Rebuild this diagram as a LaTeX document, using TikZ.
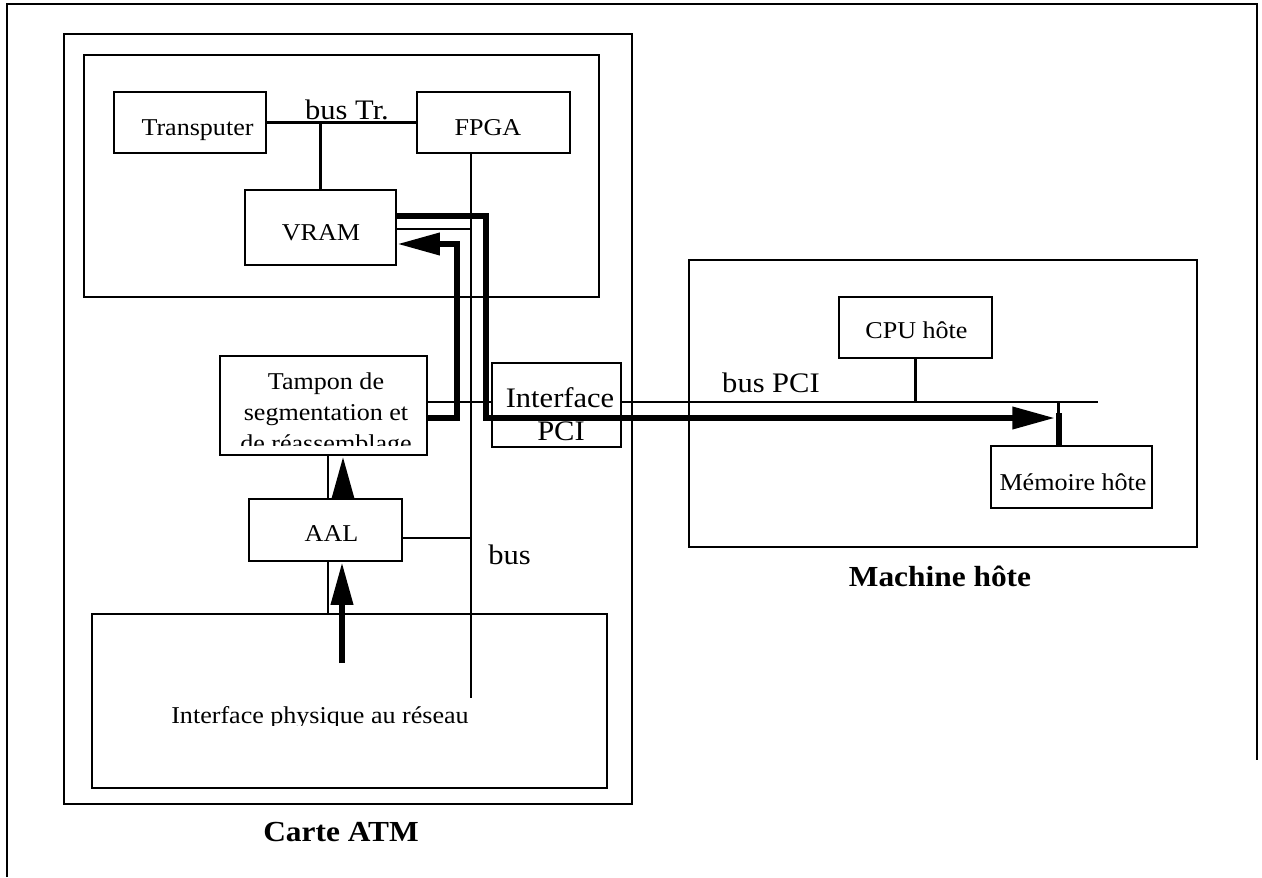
\documentclass[tikz,border=0pt]{standalone}
\usepackage{fontspec}
\setmainfont{Liberation Serif}[FakeStretch=1.08]
\usetikzlibrary{arrows.meta,fit}
\begin{document}
\begin{tikzpicture}[x=0.75pt,y=-0.75pt,
  box/.style={draw, line width=1.9pt, rectangle, inner sep=0pt},
  wire/.style={line width=1.9pt},
  heavy/.style={line width=4.5pt},
  flow/.style={line width=4.5pt, -{Triangle[length=32pt,width=16pt]}},
  small/.style={font=\fontsize{18.1}{21}\selectfont, inner sep=0pt, anchor=base},
  large/.style={font=\fontsize{21.2}{24}\selectfont, inner sep=0pt, anchor=base},
  title/.style={font=\fontsize{21.8}{25}\selectfont\bfseries, inner sep=0pt, anchor=base}]

\useasboundingbox (0,0) rectangle (1262,877);

% outer frame
\coordinate (fr1) at (7,877);
\coordinate (fr2) at (7,4);
\coordinate (fr3) at (1257,4);
\coordinate (fr4) at (1257,760);
\draw[line width=2.2pt] (fr1) -- (fr2) -- (fr3) -- (fr4);

% boxes
\node[box, fit={(64,34) (632,804)}] (carte) {};
\node[box, fit={(84,55) (599,297)}] (inner) {};
\node[box, fit={(114,92) (266,153)}] (trans) {};
\node[box, fit={(417,92) (570,153)}] (fpga) {};
\node[box, fit={(245,190) (396,265)}] (vram) {};
\node[box, fit={(220,356) (427,455)}] (tampon) {};
\node[box, fit={(492,363) (621,447)}] (iface) {};
\node[box, fit={(249,499) (402,561)}] (aal) {};
\node[box, fit={(92,614) (607,788)}] (phys) {};
\node[box, fit={(689,260) (1197,547)}] (host) {};
\node[box, fit={(839,297) (992,358)}] (cpu) {};
\node[box, fit={(991,446) (1152,508)}] (mem) {};

% texts
\node[small] (transT) at (197.5,136) {Transputer};
\node[small] (fpgaT) at (488,136) {FPGA};
\node[small] (vramT) at (321,240) {VRAM};
\node[large] (busTr) at (347,120) {bus Tr.};
\node[small] (tamp1) at (326,389) {Tampon de};
\node[small] (tamp2) at (326,420) {segmentation et};
\begin{scope}
  \clip (221,357) rectangle (426,445);
  \node[small] (tamp3) at (326,451.5) {de réassemblage};
\end{scope}
\node[large] (ifaceT1) at (560,407) {Interface};
\node[large] (ifaceT2) at (561,440) {PCI};
\node[small] (aalT) at (331.5,541) {AAL};
\node[large] (busT) at (509.5,564) {bus};
\begin{scope}
  \clip (93,615) rectangle (606,725.5);
  \node[small] (physT) at (320,723) {Interface physique au réseau};
\end{scope}
\node[title] (carteT) at (341,841) {Carte ATM};
\node[small] (cpuT) at (916.5,338) {CPU hôte};
\node[large] (busPCI) at (771,392) {bus PCI};
\node[small] (memT) at (1073,490) {Mémoire hôte};
\node[title] (hostT) at (940,586) {Machine hôte};

% coordinates
\coordinate (trj) at (320,124);
\coordinate (busend) at (471,698);
\coordinate (vb) at (471,229);
\coordinate (ab) at (471,538);
\coordinate (pb) at (0,402);
\coordinate (pciend) at (1098,402);
\coordinate (c1) at (486,216);
\coordinate (c2) at (486,418);
\coordinate (memtip) at (1055,418);
\coordinate (t1) at (457,418);
\coordinate (t2) at (457,244);
\coordinate (up1) at (343,0);
\coordinate (up2) at (342,663);
\coordinate (v1) at (328,0);
\coordinate (mv) at (1058.5,402);
\coordinate (mt) at (1058.5,413);

% thin connectors
\draw[wire] (trans.east) -- (fpga.west);
\draw[wire] (vram.north) -- (vram.north |- trj);
\draw[wire] (fpga.south -| busend) -- (busend);
\draw[wire] (vram.east |- vb) -- (vb);
\draw[wire] (aal.east |- ab) -- (ab);
\draw[wire] (tampon.east |- pb) -- (iface.west |- pb);
\draw[wire] (iface.east |- pb) -- (pciend);
\draw[wire] (cpu.south) -- (cpu.south |- pciend);
\draw[wire] (tampon.south -| v1) -- (aal.north -| v1);
\draw[wire] (aal.south -| v1) -- (phys.north -| v1);
\draw[wire] (mv) -- (mem.north -| mv);

% thick data paths
\draw[flow, line join=miter] (vram.east |- c1) -- (c1) -- (c2) -- (memtip);
\draw[flow, line join=miter] (tampon.east |- t1) -- (t1) -- (t2) -- (vram.east |- t2);
\draw[flow] (aal.north -| up1) -- (tampon.south -| up1);
\draw[flow] (up2) -- (aal.south -| up2);
\draw[heavy] (mt) -- (mem.north -| mt);
\end{tikzpicture}
\end{document}
